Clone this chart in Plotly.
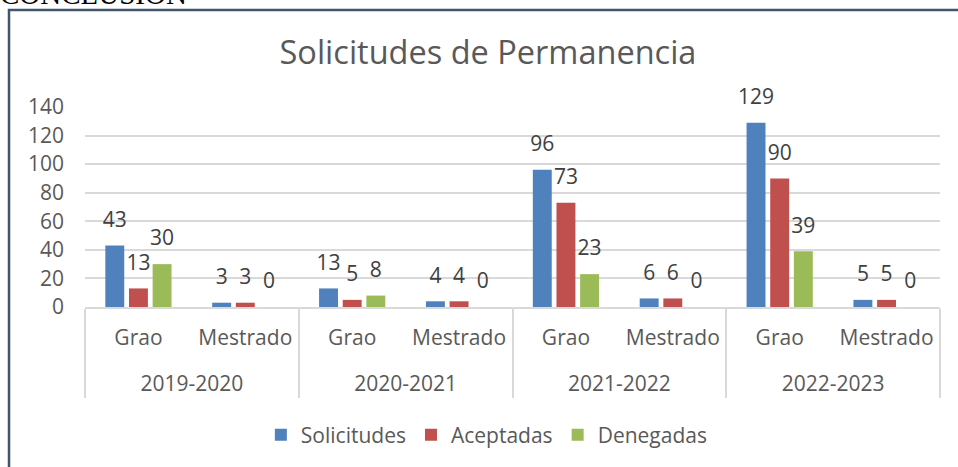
import plotly.graph_objects as go

years = ["2019-2020", "2019-2020", "2020-2021", "2020-2021",
         "2021-2022", "2021-2022", "2022-2023", "2022-2023"]
levels = ["Grao", "Mestrado"] * 4
solicitudes = [43, 3, 13, 4, 96, 6, 129, 5]
aceptadas = [13, 3, 5, 4, 73, 6, 90, 5]
denegadas = [30, 0, 8, 0, 23, 0, 39, 0]
series = [("Solicitudes", solicitudes, "#4F81BD"),
          ("Aceptadas", aceptadas, "#C0504D"),
          ("Denegadas", denegadas, "#9BBB59")]
yticks = [0, 20, 40, 60, 80, 100, 120, 140]

FONT = "Open Sans"
GREY = "#595959"

# outer-level labels get a blank first line so they sit lower, like the reference
year_labels = ["<br>" + y for y in years]
xcats = [year_labels, levels]

fig = go.Figure()
for name, vals, col in series:
    fig.add_trace(go.Bar(x=xcats, y=vals, name=name,
                         marker=dict(color=col, line=dict(width=0)),
                         hoverinfo="skip"))
for name, vals, col in series:
    fig.add_trace(go.Scatter(x=xcats, y=vals, mode="markers+text",
                             text=[str(v) for v in vals],
                             textposition="top center",
                             textfont=dict(family=FONT, size=21, color="#404040"),
                             marker=dict(size=20, opacity=0, color=col),
                             showlegend=False, hoverinfo="skip", cliponaxis=False))

W, H = 958, 467
L, R, T, B = 85, 18, 107, 160
pw, ph = W - L - R, H - T - B

def px(x):
    return (x - L) / pw

def py(y):
    return (H - B - y) / ph

fig.update_layout(
    width=W, height=H,
    margin=dict(l=L, r=R, t=T, b=B),
    paper_bgcolor="white", plot_bgcolor="white",
    barmode="group", bargap=0.336, bargroupgap=0.2,
    scattermode="group", scattergap=0.336,
    font=dict(family=FONT, size=21, color=GREY),
    title=dict(text="Solicitudes de Permanencia", x=488 / W, xanchor="center",
               y=1 - 53 / H, yanchor="middle", xref="container", yref="container",
               font=dict(family=FONT, size=32.5, color=GREY)),
    legend=dict(orientation="h", x=0.47, xanchor="center", y=py(435), yanchor="middle",
                font=dict(family=FONT, size=21, color=GREY), traceorder="normal",
                itemwidth=30),
    xaxis=dict(type="multicategory", showline=True, linecolor="#D9D9D9", linewidth=1.5,
               showdividers=True, dividercolor="#D9D9D9", dividerwidth=1.5,
               ticklabelstandoff=11,
               tickfont=dict(family=FONT, size=21, color=GREY), ticks=""),
    yaxis=dict(range=[0, 140], tickvals=yticks, showgrid=True, gridcolor="#D9D9D9",
               gridwidth=1.5, zeroline=False, showline=False, ticks="",
               ticklabelstandoff=20,
               tickfont=dict(family=FONT, size=21, color=GREY)),
    shapes=[dict(type="rect", xref="paper", yref="paper",
                 x0=px(9), x1=px(962), y0=py(470), y1=py(10),
                 line=dict(color="#41566E", width=2.5), layer="above")],
    annotations=[dict(text="CONCLUSIÓN", xref="paper", yref="paper",
                      x=px(-2), xanchor="left", y=py(12), yanchor="bottom",
                      showarrow=False,
                      font=dict(family="Liberation Serif", size=29, color="black"))],
)

fig.write_html("out.html", config={"displayModeBar": False},
               post_script="document.body.style.margin='0px';")
